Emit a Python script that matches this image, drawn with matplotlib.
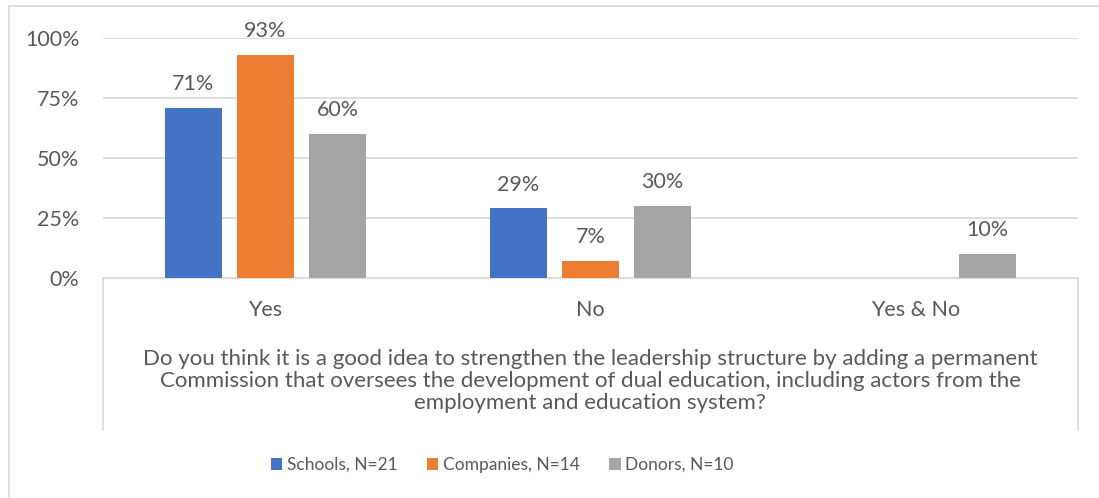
import matplotlib.pyplot as plt
import numpy as np
from matplotlib.lines import Line2D
from matplotlib.ticker import PercentFormatter

categories = ["Yes", "No", "Yes & No"]
schools = [0.71, 0.29, 0.0]
companies = [0.93, 0.07, 0.0]
donors = [0.60, 0.30, 0.10]
series_names = ["Schools, N=21", "Companies, N=14", "Donors, N=10"]
colors = ["#4472C4", "#ED7D31", "#A5A5A5"]
yticks = [0, 0.25, 0.5, 0.75, 1.0]
question = ("Do you think it is a good idea to strengthen the leadership structure by adding a permanent\n"
            "Commission that oversees the development of dual education, including actors from the\n"
            "employment and education system?")

plt.rcParams['font.family'] = ['Lato', 'DejaVu Sans']
txt = "#595959"
grid_c = "#D9D9D9"

fig = plt.figure(figsize=(10.99, 4.98), dpi=100)
W, H = 1099, 498
ax = fig.add_axes([103 / W, 1 - 278 / H, (1078 - 103) / W, (278 - 38) / H])

x = np.arange(len(categories))
width = 0.175
step = 0.222
for i, (vals, name, c) in enumerate(zip([schools, companies, donors], series_names, colors)):
    bars = ax.bar(x + (i - 1) * step, vals, width, color=c, label=name, zorder=3)
    for b, v in zip(bars, vals):
        if v > 0:
            ax.annotate(f"{v:.0%}", (b.get_x() + b.get_width() / 2, v),
                        xytext=(0, 10), textcoords="offset points",
                        ha="center", va="bottom", fontsize=15.5, color=txt)

ax.set_xlim(-0.5, 2.5)
ax.set_ylim(0, 1)
ax.set_yticks(yticks)
ax.yaxis.set_major_formatter(PercentFormatter(1.0, decimals=0))
ax.grid(axis="y", color=grid_c, linewidth=1.2, zorder=0)
for s in ["top", "right", "left"]:
    ax.spines[s].set_visible(False)
ax.spines["bottom"].set_color(grid_c)
ax.spines["bottom"].set_linewidth(1.2)
ax.tick_params(axis="y", length=0, labelsize=15.5, labelcolor=txt, pad=17)
ax.tick_params(axis="x", length=0, labelsize=15.5, labelcolor=txt, pad=16)
ax.set_xticks(x)
ax.set_xticklabels(categories)

# category axis box
for xp in [103, 1078]:
    fig.add_artist(Line2D([xp / W, xp / W], [1 - 278 / H, 1 - 430 / H], color=grid_c, linewidth=1.2))
# chart border (left and top)
fig.add_artist(Line2D([9 / W, 9 / W], [0, 1 - 6 / H], color=grid_c, linewidth=1.2))
fig.add_artist(Line2D([9 / W, 1], [1 - 6 / H, 1 - 6 / H], color=grid_c, linewidth=1.2))

fig.text(590 / W, 1 - 381 / H, question, ha="center", va="center", fontsize=16,
         color=txt, linespacing=1.15)

fig.legend(loc="center", bbox_to_anchor=(502 / W, 1 - 465 / H), ncol=3, frameon=False,
           fontsize=12.5, labelcolor=txt, handlelength=0.67, handleheight=0.67,
           handletextpad=0.25, columnspacing=1.7)

fig.savefig("out.png", dpi=100)
